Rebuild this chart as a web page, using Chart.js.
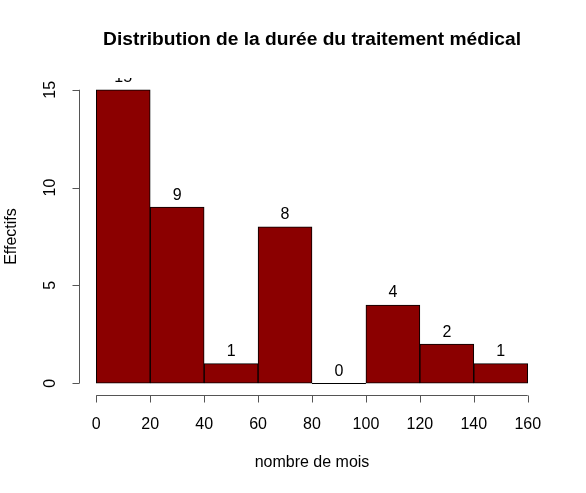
<!DOCTYPE html>
<html>
<head>
<meta charset="utf-8">
<script src="https://cdn.jsdelivr.net/npm/chart.js@4/dist/chart.umd.min.js"></script>
<style>
  html, body { margin: 0; padding: 0; background: #fff; }
  #wrap { width: 586px; height: 493px; }
</style>
</head>
<body>
<div id="wrap"><canvas id="myChart"></canvas></div>
<script>
// classes de durée (mois) et effectifs
const breaks = [0, 20, 40, 60, 80, 100, 120, 140, 160]
const effectifs = [15, 9, 1, 8, 0, 4, 2, 1]
const xTicks = [0, 20, 40, 60, 80, 100, 120, 140, 160]
const yTicks = [0, 5, 10, 15]

const titre = 'Distribution de la durée du traitement médical'
const police = '"Liberation Sans", Arial, sans-serif'

const points = []
for (let i = 0; i < effectifs.length; i++) {
    points.push({ x: (breaks[i] + breaks[i + 1]) / 2, y: effectifs[i] })
}

// axes façon R, détachés de la zone de tracé
const axesR = {
    id: 'axesR',
    afterDatasetsDraw(chart) {
        const c = chart.ctx
        const xs = chart.scales.x
        const ys = chart.scales.y
        const area = chart.chartArea
        c.save()

        // classes vides : juste le trait du bas
        c.strokeStyle = '#000'
        c.lineWidth = 1
        c.beginPath()
        effectifs.forEach((v, i) => {
            if (v === 0) {
                const py = Math.round(ys.getPixelForValue(0)) + 0.5
                c.moveTo(xs.getPixelForValue(breaks[i]), py)
                c.lineTo(xs.getPixelForValue(breaks[i + 1]), py)
            }
        })
        c.stroke()

        // étiquettes au-dessus des barres (coupées à la zone de tracé)
        c.save()
        c.beginPath()
        c.rect(area.left, area.top, area.right - area.left, area.bottom - area.top)
        c.clip()
        c.fillStyle = '#000'
        c.font = '16px ' + police
        c.textAlign = 'center'
        c.textBaseline = 'middle'
        points.forEach(p => {
            c.fillText(String(p.y), xs.getPixelForValue(p.x), ys.getPixelForValue(p.y) - 12)
        })
        c.restore()

        c.strokeStyle = '#555'
        c.lineWidth = 1
        c.fillStyle = '#000'
        c.font = '16px ' + police

        // axe x
        const yAxe = area.bottom + 0.5
        const x0 = xs.getPixelForValue(xTicks[0])
        const x1 = xs.getPixelForValue(xTicks[xTicks.length - 1])
        c.beginPath()
        c.moveTo(x0, yAxe)
        c.lineTo(x1, yAxe)
        xTicks.forEach(t => {
            const px = Math.round(xs.getPixelForValue(t)) + 0.5
            c.moveTo(px, yAxe)
            c.lineTo(px, yAxe + 7)
        })
        c.stroke()
        c.textAlign = 'center'
        c.textBaseline = 'middle'
        xTicks.forEach(t => {
            c.fillText(String(t), xs.getPixelForValue(t), yAxe + 29)
        })

        // axe y
        const xAxe = area.left + 0.5
        c.beginPath()
        c.moveTo(xAxe, ys.getPixelForValue(yTicks[0]))
        c.lineTo(xAxe, ys.getPixelForValue(yTicks[yTicks.length - 1]))
        yTicks.forEach(t => {
            const py = Math.round(ys.getPixelForValue(t)) + 0.5
            c.moveTo(xAxe, py)
            c.lineTo(xAxe - 7, py)
        })
        c.stroke()
        yTicks.forEach(t => {
            c.save()
            c.translate(xAxe - 29, ys.getPixelForValue(t))
            c.rotate(-Math.PI / 2)
            c.fillText(String(t), 0, 0)
            c.restore()
        })

        // titres
        const cx = (area.left + area.right) / 2
        c.font = 'bold 19.2px ' + police
        c.fillText(titre, cx, 40)
        c.font = '16px ' + police
        c.fillText('nombre de mois', cx, 463)
        c.save()
        c.translate(12, (area.top + area.bottom) / 2)
        c.rotate(-Math.PI / 2)
        c.fillText('Effectifs', 0, 0)
        c.restore()

        c.restore()
    }
}

new Chart(document.getElementById('myChart'), {
    type: 'bar',
    data: {
        datasets: [{
            data: points,
            backgroundColor: '#8b0000',
            borderColor: '#000',
            borderWidth: 1,
            borderSkipped: false,
            barPercentage: 1,
            categoryPercentage: 1
        }]
    },
    options: {
        responsive: true,
        maintainAspectRatio: false,
        animation: false,
        events: [],
        layout: { padding: { left: 79, right: 41, top: 78, bottom: 98 } },
        scales: {
            x: { type: 'linear', min: -6.4, max: 166.4, display: false, offset: false },
            y: { min: -0.6, max: 15.6, display: false }
        },
        plugins: {
            legend: { display: false },
            tooltip: { enabled: false },
            title: { display: false }
        }
    },
    plugins: [axesR]
})
</script>
</body>
</html>
